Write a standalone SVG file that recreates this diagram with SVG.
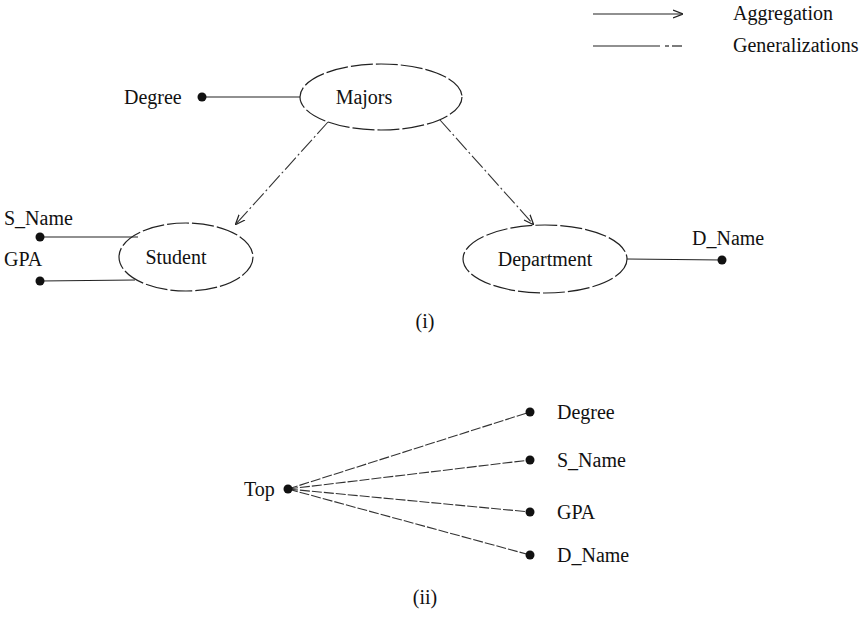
<svg xmlns="http://www.w3.org/2000/svg" width="865" height="638" viewBox="0 0 865 638">
<style>
text{font-family:"Liberation Serif","Times New Roman",serif;font-size:20px;fill:#111}
.e{fill:none;stroke:#222;stroke-width:1.2;stroke-dasharray:22 3}
.l{fill:none;stroke:#222;stroke-width:1.2}
.g{fill:none;stroke:#333;stroke-width:1.1;stroke-dasharray:16 3 2 3}
.t{fill:none;stroke:#333;stroke-width:1.1;stroke-dasharray:10 2}
.d{fill:#111}
</style>
<defs>
<marker id="ah" viewBox="0 0 10 10" refX="9" refY="5" markerWidth="10" markerHeight="10" markerUnits="userSpaceOnUse" orient="auto">
<path d="M0,1 L10,5 L0,9" fill="none" stroke="#222" stroke-width="1.3"/>
</marker>
</defs>
<g id="legend">
<line class="l" x1="593" y1="14" x2="682" y2="14" marker-end="url(#ah)"/>
<text x="733" y="20" font-size="18">Aggregation</text>
<line class="l" x1="593" y1="46" x2="660" y2="46"/>
<line class="l" x1="665" y1="46" x2="669" y2="46"/>
<line class="l" x1="672" y1="46" x2="682" y2="46"/>
<text x="733" y="52" font-size="18">Generalizations</text>
</g>
<g id="connectors">
<line class="l" x1="202" y1="97" x2="300" y2="97"/>
<line class="g" x1="328" y1="122" x2="236" y2="224" marker-end="url(#ah)"/>
<line class="g" x1="440" y1="120" x2="533" y2="224" marker-end="url(#ah)"/>
<line class="l" x1="40" y1="237" x2="138" y2="237"/>
<line class="l" x1="40" y1="281" x2="135" y2="280"/>
<line class="l" x1="627" y1="259" x2="722" y2="260"/>
<line class="t" x1="288" y1="489" x2="530" y2="412"/>
<line class="t" x1="288" y1="489" x2="530" y2="460"/>
<line class="t" x1="288" y1="489" x2="530" y2="512"/>
<line class="t" x1="288" y1="489" x2="530" y2="555"/>
</g>
<g id="majors">
<ellipse class="e" cx="381" cy="97" rx="81" ry="33"/>
<text x="364" y="104" text-anchor="middle">Majors</text>
</g>
<g id="degree">
<circle class="d" cx="202" cy="97" r="4.5"/>
<text x="124" y="104">Degree</text>
</g>
<g id="student">
<ellipse class="e" cx="186" cy="257" rx="67" ry="34"/>
<text x="176" y="264" text-anchor="middle">Student</text>
</g>
<g id="sname">
<circle class="d" cx="40" cy="237" r="4.5"/>
<text x="4" y="225">S_Name</text>
</g>
<g id="gpa">
<circle class="d" cx="40" cy="281" r="4.5"/>
<text x="4" y="266">GPA</text>
</g>
<g id="department">
<ellipse class="e" cx="545" cy="259" rx="82" ry="34"/>
<text x="545" y="266" text-anchor="middle">Department</text>
</g>
<g id="dname">
<circle class="d" cx="722" cy="260" r="4.5"/>
<text x="692" y="245">D_Name</text>
</g>
<text x="425" y="328" text-anchor="middle" font-size="16">(i)</text>
<g id="top">
<circle class="d" cx="288" cy="489" r="4.5"/>
<text x="244" y="496">Top</text>
</g>
<g id="degree2">
<circle class="d" cx="530" cy="412" r="4.5"/>
<text x="557" y="419">Degree</text>
</g>
<g id="sname2">
<circle class="d" cx="530" cy="460" r="4.5"/>
<text x="557" y="467">S_Name</text>
</g>
<g id="gpa2">
<circle class="d" cx="530" cy="512" r="4.5"/>
<text x="557" y="519">GPA</text>
</g>
<g id="dname2">
<circle class="d" cx="530" cy="555" r="4.5"/>
<text x="557" y="562">D_Name</text>
</g>
<text x="425" y="604" text-anchor="middle" font-size="16">(ii)</text>
</svg>
